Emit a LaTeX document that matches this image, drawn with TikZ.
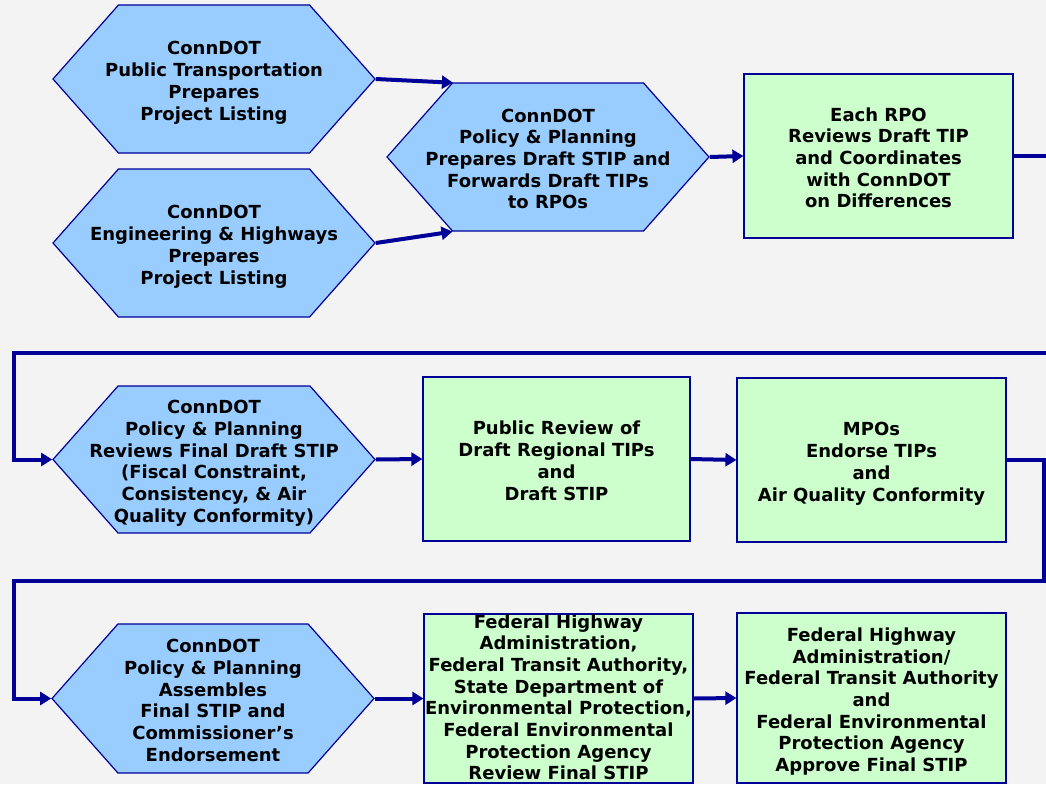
\documentclass[tikz,border=0pt]{standalone}
\usepackage{fontspec}
\setmainfont{DejaVu Sans}
\usetikzlibrary{arrows.meta,shapes.symbols}
\definecolor{hexblue}{HTML}{99CCFF}
\definecolor{boxgreen}{HTML}{CCFFCC}
\definecolor{navy}{HTML}{000099}
\definecolor{bggray}{HTML}{F3F3F3}
% centred lines, a little low as in the scan; they never make a node grow
\newcommand{\steplines}[2][8.5pt]{\smash{\raisebox{-#1}{\begin{tabular}{@{}c@{}}#2\end{tabular}}}}
% hexagon text may run over the pointed ends, so it takes no width
\newcommand{\hexlines}[1]{\makebox[0pt]{\steplines{#1}}}
\begin{document}
\begin{tikzpicture}[x=1pt,y=-1pt,
  txt/.style={inner sep=0pt,font=\bfseries\fontsize{18}{21.7}\selectfont},
  hexstep/.style={txt,shape=signal,signal to=east and west,signal pointer angle=97,
    fill=hexblue,draw=navy,line width=1.2pt,minimum width=322pt,minimum height=148pt},
  boxstep/.style={txt,rectangle,fill=boxgreen,draw=navy,line width=1.2pt,
    minimum width=269pt,minimum height=164pt},
  flow/.style={draw=navy,line width=4pt,-{Triangle[length=11pt,width=13pt]}}]
  \useasboundingbox (0,0) rectangle (1046,784);
  \clip (0,0) rectangle (1046,784);
  \fill[bggray] (0,0) rectangle (1046,784); % page background
  % row 1
  \node[hexstep] (pubtrans) at (214,79) {\hexlines{ConnDOT\\Public Transportation\\Prepares\\Project Listing}};
  \node[hexstep] (enghwy) at (214,243) {\hexlines{ConnDOT\\Engineering \& Highways\\Prepares\\Project Listing}};
  \node[hexstep] (draftstip) at (548,157) {\hexlines{ConnDOT\\Policy \& Planning\\Prepares Draft STIP and\\Forwards Draft TIPs\\to RPOs}};
  \node[boxstep] (rporeview) at (878.5,156) {\steplines{Each RPO\\Reviews Draft TIP\\and Coordinates\\with ConnDOT\\on Differences}};
  % row 2
  \node[hexstep,minimum height=147pt] (finalreview) at (214,459.5) {\hexlines{ConnDOT\\Policy \& Planning\\Reviews Final Draft STIP\\(Fiscal Constraint,\\Consistency, \& Air\\Quality Conformity)}};
  \node[boxstep,minimum width=267pt] (publicrev) at (556.5,459) {\steplines{Public Review of\\Draft Regional TIPs\\and\\Draft STIP}};
  \node[boxstep] (mpoendorse) at (871.5,460) {\steplines{MPOs\\Endorse TIPs\\and\\Air Quality Conformity}};
  % row 3
  \node[hexstep,minimum height=149pt] (assemble) at (213,698.5) {\hexlines{ConnDOT\\Policy \& Planning\\Assembles\\Final STIP and\\Commissioner’s\\Endorsement}};
  \node[boxstep,minimum height=169pt] (fedreview) at (558.5,698.5) {\steplines[5.5pt]{Federal Highway\\Administration,\\Federal Transit Authority,\\State Department of\\Environmental Protection,\\Federal Environmental\\Protection Agency\\Review Final STIP}};
  \node[boxstep,minimum height=170pt] (fedapprove) at (871.5,698) {\steplines{Federal Highway\\Administration/\\Federal Transit Authority\\and\\Federal Environmental\\Protection Agency\\Approve Final STIP}};
  % turning points of the long connectors
  \coordinate (turnA) at (1056,353);
  \coordinate (turnB) at (14,353);
  \coordinate (turnC) at (1044,581);
  \coordinate (turnD) at (14,581);
  % connectors
  \draw[flow] (pubtrans.east) -- (draftstip.142);
  \draw[flow] (enghwy.east) -- (draftstip.218);
  \draw[flow] (draftstip.east) -- (rporeview.west);
  \draw[flow] (rporeview.east) -| (turnA) -- (turnB) |- (finalreview.west);
  \draw[flow] (finalreview.east) -- (publicrev.west);
  \draw[flow] (publicrev.east) -- (mpoendorse.west);
  \draw[flow] (mpoendorse.east) -| (turnC) -- (turnD) |- (assemble.west);
  \draw[flow] (assemble.east) -- (fedreview.west);
  \draw[flow] (fedreview.east) -- (fedapprove.west);
\end{tikzpicture}
\end{document}
